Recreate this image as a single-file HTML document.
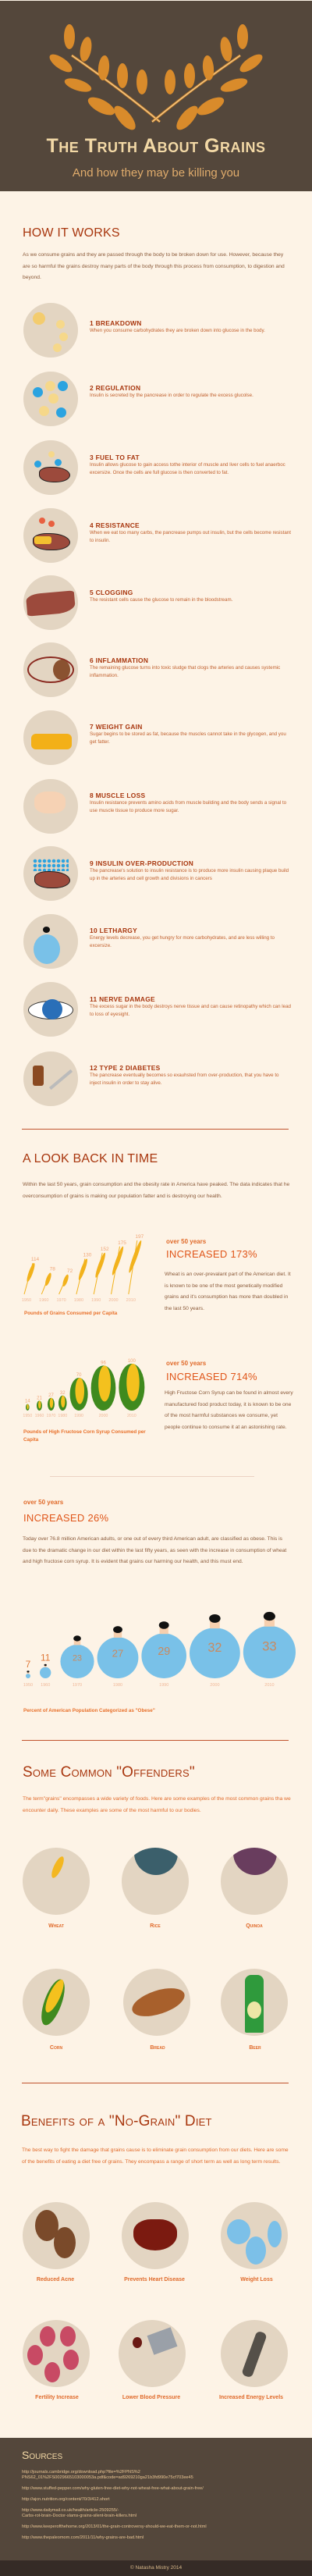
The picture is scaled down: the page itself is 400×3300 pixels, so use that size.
<!DOCTYPE html>
<html><head><meta charset="utf-8">
<style>
*{margin:0;padding:0;box-sizing:border-box}
body{width:400px;height:3300px;background:#fdf3e6;font-family:"Liberation Sans",sans-serif;position:relative;overflow:hidden}
.abs{position:absolute}
.h2{position:absolute;left:29px;color:#a8360e;font-size:16px;letter-spacing:0.2px}
.sc{font-variant:small-caps}
.p{position:absolute;left:29px;width:345px;font-size:6.7px;line-height:14.5px;color:#8a5a3a}
.po{color:#e06a2a}
.circ{position:absolute;border-radius:50%;background:#e3d5c2;overflow:hidden}
.st{position:absolute;left:115px;width:258px}
.st b{display:block;color:#a8360e;font-size:8.4px;letter-spacing:0.3px}
.st span{display:block;color:#c0602e;font-size:6.2px;line-height:9.7px}
.hr{position:absolute;left:28px;width:342px;height:1px;background:#c0532e}
.lbl{position:absolute;color:#e06a2a;font-size:7px;font-weight:bold;text-align:center;width:130px}
.inc1{position:absolute;color:#e06a2a;font-size:8px;font-weight:bold}
.inc2{position:absolute;color:#e0561a;font-size:13px;letter-spacing:0.3px}
.cap{position:absolute;color:#e8702a;font-size:6.3px;font-weight:bold}
.d{position:absolute;border-radius:50%}
</style></head><body>

<div class="abs" style="left:0;top:1px;width:400px;height:244px;background:#54473b">
<svg width="400" height="180">
 <g id="lf" fill="#d98b2b">
  <path d="M205,155 Q150,110 92,70" stroke="#d98b2b" stroke-width="3" fill="none"/>
  <path d="M205,155 Q150,110 92,70" stroke="#f1d5a6" stroke-width="1" fill="none"/>
  <ellipse cx="89" cy="46" rx="7" ry="16"/>
  <ellipse cx="110" cy="62" rx="7" ry="16" transform="rotate(10 110 62)"/>
  <ellipse cx="78" cy="80" rx="7" ry="17" transform="rotate(-55 78 80)"/>
  <ellipse cx="133" cy="86" rx="7" ry="16" transform="rotate(5 133 86)"/>
  <ellipse cx="157" cy="96" rx="7" ry="16"/>
  <ellipse cx="182" cy="104" rx="7" ry="16"/>
  <ellipse cx="100" cy="108" rx="7" ry="18" transform="rotate(-72 100 108)"/>
  <ellipse cx="130" cy="135" rx="8" ry="19" transform="rotate(-62 130 135)"/>
  <ellipse cx="160" cy="150" rx="8" ry="19" transform="rotate(-40 160 150)"/>
 </g>
 <use href="#lf" transform="translate(400 0) scale(-1 1)"/>
</svg>
<div class="abs sc" style="left:0;top:172px;width:400px;text-align:center;color:#f3d9a6;font-size:25px;font-weight:bold;letter-spacing:0.5px">The Truth About Grains</div>
<div class="abs" style="left:0;top:212px;width:400px;text-align:center;color:#e0ac6c;font-size:15px">And how they may be killing you</div>
</div>

<div class="h2" style="top:290px">HOW IT WORKS</div>
<div class="p" style="top:320px">As we consume grains and they are passed through the body to be broken down for use. However, because they are so harmful the grains destroy many parts of the body through this process from consumption, to digestion and beyond.</div>

<div class="circ" style="left:30px;top:388px;width:70px;height:70px"><div class="d" style="left:12px;top:12px;width:16px;height:16px;background:#f3cc6e"></div><div class="d" style="left:42px;top:22px;width:11px;height:11px;background:#f6d88a"></div><div class="d" style="left:46px;top:38px;width:11px;height:11px;background:#f6d88a"></div><div class="d" style="left:38px;top:52px;width:11px;height:11px;background:#f6d88a"></div></div>
<div class="st" style="top:409px"><b>1 BREAKDOWN</b><span>When you consume carbohydrates they are broken down into glucose in the body.</span></div>
<div class="circ" style="left:30px;top:476px;width:70px;height:70px"><div class="d" style="left:12px;top:20px;width:13px;height:13px;background:#2ba3e0"></div><div class="d" style="left:44px;top:12px;width:13px;height:13px;background:#2ba3e0"></div><div class="d" style="left:42px;top:46px;width:13px;height:13px;background:#2ba3e0"></div><div class="d" style="left:28px;top:12px;width:13px;height:13px;background:#f6d88a"></div><div class="d" style="left:32px;top:28px;width:13px;height:13px;background:#f6d88a"></div><div class="d" style="left:20px;top:44px;width:13px;height:13px;background:#f6d88a"></div></div>
<div class="st" style="top:492px"><b>2 REGULATION</b><span>Insulin is secreted by the pancrease in order to regulate the excess glucolse.</span></div>
<div class="circ" style="left:30px;top:564px;width:70px;height:70px"><div class="abs" style="left:20px;top:34px;width:40px;height:20px;background:#9c4a3c;border-radius:40% 60% 50% 50%;border:1px solid #222"></div><div class="d" style="left:14px;top:26px;width:9px;height:9px;background:#2ba3e0"></div><div class="d" style="left:40px;top:24px;width:9px;height:9px;background:#2ba3e0"></div><div class="d" style="left:32px;top:14px;width:8px;height:8px;background:#f6d88a"></div></div>
<div class="st" style="top:581px"><b>3 FUEL TO FAT</b><span>Insulin allows glucose to gain access tothe interior of muscle and liver cells to fuel anaerboc excersize. Once the cells are full glucose is then converted to fat.</span></div>
<div class="circ" style="left:30px;top:651px;width:70px;height:70px"><div class="abs" style="left:12px;top:32px;width:48px;height:22px;background:#9c4a3c;border-radius:40% 60% 50% 50%;border:1px solid #222"></div><div class="abs" style="left:14px;top:36px;width:22px;height:10px;background:#f3c030;border-radius:3px"></div><div class="d" style="left:20px;top:12px;width:8px;height:8px;background:#e86040"></div><div class="d" style="left:32px;top:16px;width:8px;height:8px;background:#e86040"></div></div>
<div class="st" style="top:668px"><b>4 RESISTANCE</b><span>When we eat too many carbs, the pancrease pumps out insulin, but the cells become resistant to insulin.</span></div>
<div class="circ" style="left:30px;top:737px;width:70px;height:70px"><div class="abs" style="left:4px;top:22px;width:62px;height:28px;background:#9c4a3c;border-radius:30% 10% 40% 10%;transform:rotate(-5deg)"></div></div>
<div class="st" style="top:754px"><b>5 CLOGGING</b><span>The resistant cells cause the glucose to remain in the bloodstream.</span></div>
<div class="circ" style="left:30px;top:823px;width:70px;height:70px"><div class="abs" style="left:5px;top:18px;width:60px;height:34px;border:2px solid #8a2a20;border-radius:50%"></div><div class="d" style="left:38px;top:22px;width:22px;height:26px;background:#8a5230"></div></div>
<div class="st" style="top:841px"><b>6 INFLAMMATION</b><span>The remaining glucose turns into toxic sludge that clogs the arteries and causes systemic inflammation.</span></div>
<div class="circ" style="left:30px;top:910px;width:70px;height:70px"><div class="abs" style="left:10px;top:30px;width:52px;height:20px;background:#f3b018;border-radius:6px"></div></div>
<div class="st" style="top:926px"><b>7 WEIGHT GAIN</b><span>Sugar begins to be stored as fat, because the muscles cannot take in the glycogen, and you get fatter.</span></div>
<div class="circ" style="left:30px;top:998px;width:70px;height:70px"><div class="abs" style="left:14px;top:16px;width:40px;height:28px;background:#f6d2b4;border-radius:40%"></div></div>
<div class="st" style="top:1014px"><b>8 MUSCLE LOSS</b><span>Insulin resistance prevents amino acids from muscle building and the body sends a signal to use muscle tissue to produce more sugar.</span></div>
<div class="circ" style="left:30px;top:1084px;width:70px;height:70px"><div class="abs" style="left:14px;top:32px;width:46px;height:22px;background:#9c4a3c;border-radius:40% 60% 50% 50%;border:1px solid #222"></div><div class="abs" style="left:12px;top:16px;width:46px;height:16px;background:radial-gradient(circle,#2ba3e0 2px,transparent 2.5px) 0 0/6px 6px"></div></div>
<div class="st" style="top:1101px"><b>9 INSULIN OVER-PRODUCTION</b><span>The pancrease's solution to insulin resistance is to produce more insulin causing plaque build up in the arteries and cell growth and divisions in cancers</span></div>
<div class="circ" style="left:30px;top:1171px;width:70px;height:70px"><div class="d" style="left:13px;top:26px;width:34px;height:38px;background:#79c1e8"></div><div class="d" style="left:25px;top:16px;width:9px;height:8px;background:#111"></div></div>
<div class="st" style="top:1187px"><b>10 LETHARGY</b><span>Energy levels decrease, you get hungry for more carbohydrates, and are less willing to excersize.</span></div>
<div class="circ" style="left:30px;top:1258px;width:70px;height:70px"><div class="abs" style="left:6px;top:24px;width:58px;height:24px;background:#fff;border:1px solid #333;border-radius:50%"></div><div class="d" style="left:24px;top:22px;width:26px;height:26px;background:#2a6fb8"></div></div>
<div class="st" style="top:1275px"><b>11 NERVE DAMAGE</b><span>The excess sugar in the body destroys nerve tissue and can cause retinopathy which can lead to loss of eyesight.</span></div>
<div class="circ" style="left:30px;top:1347px;width:70px;height:70px"><div class="abs" style="left:12px;top:18px;width:14px;height:26px;background:#8a4a22;border-radius:3px"></div><div class="abs" style="left:30px;top:34px;width:36px;height:4px;background:#bbb;transform:rotate(-40deg)"></div></div>
<div class="st" style="top:1363px"><b>12 TYPE 2 DIABETES</b><span>The pancrease eventually becomes so exauhsted from over-production, that you have to inject insulin in order to stay alive.</span></div>

<div class="hr" style="top:1446px"></div>
<div class="h2" style="top:1476px">A LOOK BACK IN TIME</div>
<div class="p" style="top:1511px">Within the last 50 years, grain consumption and the obesity rate in America have peaked. The data indicates that he overconsumption of grains is making our population fatter and is destroying our health.</div>

<svg class="abs" id="wheat" style="left:0;top:1580px" width="200" height="100"></svg>
<div class="cap" style="left:31px;top:1679px">Pounds of Grains Consumed per Capita</div>
<div class="inc1" style="left:213px;top:1586px">over 50 years</div>
<div class="inc2" style="left:213px;top:1599px">INCREASED 173%</div>
<div class="p" style="left:211px;top:1626px;width:165px">Wheat is an over-prevalant part of the American diet. It is known to be one of the most genetically modified grains and it's consumption has more than doubled in the last 50 years.</div>

<svg class="abs" id="corn" style="left:0;top:1735px" width="200" height="85"></svg>
<div class="cap" style="left:30px;top:1830px;width:170px;line-height:10px">Pounds of High Fructose Corn Syrup Consumed per Capita</div>
<div class="inc1" style="left:213px;top:1742px">over 50 years</div>
<div class="inc2" style="left:213px;top:1756px">INCREASED 714%</div>
<div class="p" style="left:211px;top:1778px;width:165px">High Fructose Corn Syrup can be found in almost every manufactured food product today, it is known to be one of the most harmful substances we consume, yet people continue to consume it at an astonishing rate.</div>

<div class="abs" style="left:64px;top:1891px;width:262px;height:1px;background:#ecd2c4"></div>
<div class="inc1" style="left:30px;top:1920px">over 50 years</div>
<div class="inc2" style="left:30px;top:1937px">INCREASED 26%</div>
<div class="p" style="top:1965px;width:345px">Today over 76.8 million American adults, or one out of every third American adult, are classified as obese. This is due to the dramatic change in our diet within the last fifty years, as seen with the increase in consumption of wheat and high fructose corn syrup. It is evident that grains our harming our health, and this must end.</div>
<svg class="abs" id="obese" style="left:0;top:2050px" width="400" height="115"></svg>
<div class="cap" style="left:30px;top:2188px">Percent of American Population Categorized as "Obese"</div>

<div class="hr" style="top:2229px"></div>
<div class="h2 sc" style="top:2260px;font-size:19px">Some Common "Offenders"</div>
<div class="p po" style="top:2298px">The term"grains" encompasses a wide variety of foods. Here are some examples of the most common grains tha we encounter daily. These examples are some of the most harmful to our bodies.</div>

<div class="circ" style="left:29px;top:2367px;width:86px;height:86px"><div class="abs" style="left:40px;top:10px;width:10px;height:30px;background:#f3b722;border-radius:50%;transform:rotate(25deg)"></div></div>
<div class="circ" style="left:156px;top:2367px;width:86px;height:86px"><div class="abs" style="left:16px;top:0;width:56px;height:35px;background:#3b5f6b;border-radius:0 0 28px 28px"></div></div>
<div class="circ" style="left:283px;top:2367px;width:86px;height:86px"><div class="abs" style="left:16px;top:0;width:56px;height:35px;background:#693d5e;border-radius:0 0 28px 28px"></div></div>
<div class="lbl sc" style="left:7px;top:2464px">Wheat</div>
<div class="lbl sc" style="left:134px;top:2464px">Rice</div>
<div class="lbl sc" style="left:261px;top:2464px">Quinoa</div>

<div class="circ" style="left:29px;top:2522px;width:86px;height:86px"><div class="abs" style="left:28px;top:12px;width:22px;height:62px;background:#3f8a1e;border-radius:50%;transform:rotate(20deg)"></div><div class="abs" style="left:34px;top:12px;width:14px;height:46px;background:#f4c11e;border-radius:50%;transform:rotate(25deg)"></div></div>
<div class="circ" style="left:158px;top:2522px;width:86px;height:86px"><div class="abs" style="left:10px;top:28px;width:70px;height:30px;background:#a8602c;border-radius:50%;transform:rotate(-18deg)"></div></div>
<div class="circ" style="left:283px;top:2522px;width:86px;height:86px"><div class="abs" style="left:31px;top:8px;width:24px;height:74px;background:#2f9a3c;border-radius:8px 8px 2px 2px"></div><div class="abs" style="left:34px;top:42px;width:18px;height:22px;background:#eee6a6;border-radius:50%"></div></div>
<div class="lbl sc" style="left:7px;top:2620px">Corn</div>
<div class="lbl sc" style="left:137px;top:2620px">Bread</div>
<div class="lbl sc" style="left:262px;top:2620px">Beer</div>

<div class="hr" style="top:2668px"></div>
<div class="h2 sc" style="top:2707px;font-size:19px;left:27px">Benefits of a "No-Grain" Diet</div>
<div class="p po" style="top:2748px;left:28px">The best way to fight the damage that grains cause is to eliminate grain consumption from our diets. Here are some of the benefits of eating a diet free of grains. They encompass a range of short term as well as long term results.</div>

<div class="circ" style="left:29px;top:2821px;width:86px;height:86px"><div class="abs" style="left:16px;top:10px;width:30px;height:40px;background:#7a4a2a;border-radius:50%"></div><div class="abs" style="left:40px;top:32px;width:28px;height:40px;background:#7a4a2a;border-radius:50%"></div></div>
<div class="circ" style="left:156px;top:2821px;width:86px;height:86px"><div class="abs" style="left:15px;top:22px;width:56px;height:40px;background:#7b1a10;border-radius:40% 40% 50% 50%"></div></div>
<div class="circ" style="left:283px;top:2821px;width:86px;height:86px"><div class="abs" style="left:8px;top:22px;width:30px;height:32px;background:#7cc0e8;border-radius:50%"></div><div class="abs" style="left:32px;top:44px;width:26px;height:36px;background:#7cc0e8;border-radius:50%"></div><div class="abs" style="left:60px;top:24px;width:18px;height:34px;background:#7cc0e8;border-radius:50%"></div></div>
<div class="lbl" style="left:6px;top:2917px">Reduced Acne</div>
<div class="lbl" style="left:133px;top:2917px">Prevents Heart Disease</div>
<div class="lbl" style="left:264px;top:2917px">Weight Loss</div>

<div class="circ" style="left:29px;top:2972px;width:86px;height:86px"><div class="abs" style="left:22px;top:8px;width:20px;height:26px;background:#c84a64;border-radius:50%"></div><div class="abs" style="left:48px;top:8px;width:20px;height:26px;background:#c84a64;border-radius:50%"></div><div class="abs" style="left:6px;top:32px;width:20px;height:26px;background:#c84a64;border-radius:50%"></div><div class="abs" style="left:52px;top:38px;width:20px;height:26px;background:#c84a64;border-radius:50%"></div><div class="abs" style="left:28px;top:54px;width:20px;height:26px;background:#c84a64;border-radius:50%"></div></div>
<div class="circ" style="left:152px;top:2972px;width:86px;height:86px"><div class="abs" style="left:40px;top:14px;width:32px;height:26px;background:#9aa0a8;transform:rotate(-20deg)"></div><div class="abs" style="left:18px;top:22px;width:12px;height:14px;background:#6a1a14;border-radius:50%"></div></div>
<div class="circ" style="left:283px;top:2972px;width:86px;height:86px"><div class="abs" style="left:36px;top:14px;width:14px;height:60px;background:#555049;border-radius:6px;transform:rotate(20deg)"></div></div>
<div class="lbl" style="left:8px;top:3068px">Fertility Increase</div>
<div class="lbl" style="left:129px;top:3068px">Lower Blood Pressure</div>
<div class="lbl" style="left:257px;top:3068px">Increased Energy Levels</div>

<div class="abs" style="left:0;top:3123px;width:400px;height:157px;background:#54473b">
<div class="abs sc" style="left:28px;top:14px;color:#f3d9a6;font-size:14px">Sources</div>
<div class="abs" style="left:28px;top:41px;width:350px;color:#e8c594;font-size:5.6px;line-height:7px">
<div style="margin-bottom:7px">http://journals.cambridge.org/download.php?file=%2FPNS%2<br>PNS62_01%2FS0029665103000053a.pdf&amp;code=ad9269210ga21b3fd990e75cf703ee45</div>
<div style="margin-bottom:7px">http://www.stuffed-pepper.com/why-gluten-free-diet-why-not-wheat-free-what-about-grain-free/</div>
<div style="margin-bottom:7px">http://ajcn.nutrition.org/content/70/3/412.short</div>
<div style="margin-bottom:7px">http://www.dailymail.co.uk/health/article-2509255/-<br>Carbs-rot-brain-Doctor-slams-grains-silent-brain-killers.html</div>
<div style="margin-bottom:7px">http://www.keeperofthehome.org/2013/01/the-grain-controversy-should-we-eat-them-or-not.html</div>
<div>http://www.thepaleomom.com/2011/11/why-grains-are-bad.html</div>
</div></div>
<div class="abs" style="left:0;top:3280px;width:400px;height:20px;background:#352b26;color:#d9b98a;font-size:6.5px;text-align:center;line-height:20px">© Natasha Mistry 2014</div>

<script>
const years = ["1950","1960","1970","1980","1990","2000","2010"];
const wheatValues = [114,78,72,130,152,175,197];
const cornValues = [14,21,27,32,70,96,100];
const obeseValues = [7,11,23,27,29,32,33];
const NS="http://www.w3.org/2000/svg";
function mk(svg,tag,attrs,text){const e=document.createElementNS(NS,tag);for(const k in attrs)e.setAttribute(k,attrs[k]);if(text!==undefined)e.textContent=text;svg.appendChild(e);return e;}

// wheat chart
const wheat=document.getElementById('wheat');
const wBase=78, wScale=0.35;
const wx=i=>38+i*22.3;
wheatValues.forEach((v,i)=>{
  const h=v*wScale, x=wx(i);
  const g=mk(wheat,'g',{});
  
  
  mk(g,'line',{x1:x-7,y1:wBase,x2:x+4,y2:wBase-h,stroke:'#f2b21c','stroke-width':1});
  mk(g,'ellipse',{cx:x+1.5,cy:wBase-h*0.7,rx:2.6,ry:h*0.32,fill:'#f2b21c',transform:`rotate(20 ${x+1.5} ${wBase-h*0.7})`});
  mk(g,'text',{x:x+7,y:wBase-h-3,'font-size':6.5,fill:'#f0a678','text-anchor':'middle'},v);
  const y=mk(wheat,'text',{x:x-4,y:wBase+9,'font-size':5.5,fill:'#f0b898','text-anchor':'middle'},years[i]);
  
  
});

// corn chart
const corn=document.getElementById('corn');
const cBase=72, cScale=0.6;
let cx=33;
cornValues.forEach((v,i)=>{
  const h=v*cScale, w=h*0.55;
  const x=cx+w/2;
  const g=mk(corn,'g',{});
  
  
  mk(g,'ellipse',{cx:x,cy:cBase-h/2,rx:w/2,ry:h/2,fill:'#3f8a1e'});
  mk(g,'ellipse',{cx:x+w*0.05,cy:cBase-h*0.6,rx:w*0.25,ry:h*0.4,fill:'#f4c11e'});
  mk(g,'text',{x:x,y:cBase-h-2,'font-size':6,fill:'#f0a678','text-anchor':'middle'},v);
  const y=mk(corn,'text',{x:x,y:cBase+8,'font-size':5.3,fill:'#f0b898','text-anchor':'middle'},years[i]);
  
  
  cx+=Math.max(w,10)+4;
});

// obesity chart
const ob=document.getElementById('obese');
const oBase=100;
const rad=v=>Math.max(3,(v-5)*1.2);
let ox=33;
obeseValues.forEach((v,i)=>{
  const r=rad(v);
  const x=ox+r;
  const g=mk(ob,'g',{});
  
  
  mk(g,'circle',{cx:x,cy:oBase-r,r:r,fill:'#79c1e8'});
  const hs=Math.max(2,r*0.28);
  mk(g,'rect',{x:x-hs*0.7,y:oBase-2*r-hs*1.3,width:hs*1.4,height:hs*1.4,fill:'#f6cfae'});
  mk(g,'ellipse',{cx:x,cy:oBase-2*r-hs*1.3,rx:hs*0.8,ry:hs*0.6,fill:'#111'});
  if(r>10){
    mk(g,'text',{x:x,y:oBase-r*1.05,'font-size':r*0.5,fill:'#c98a60','text-anchor':'middle'},v);
  } else {
    mk(g,'text',{x:x,y:oBase-2*r-hs*2-4,'font-size':12,fill:'#e07a3a','text-anchor':'middle'},v);
  }
  const y=mk(ob,'text',{x:x,y:oBase+10,'font-size':5.5,fill:'#f0b898','text-anchor':'middle'},years[i]);
  
  
  ox+=2*r+(r>10?4:12);
});
</script>
</body></html>
